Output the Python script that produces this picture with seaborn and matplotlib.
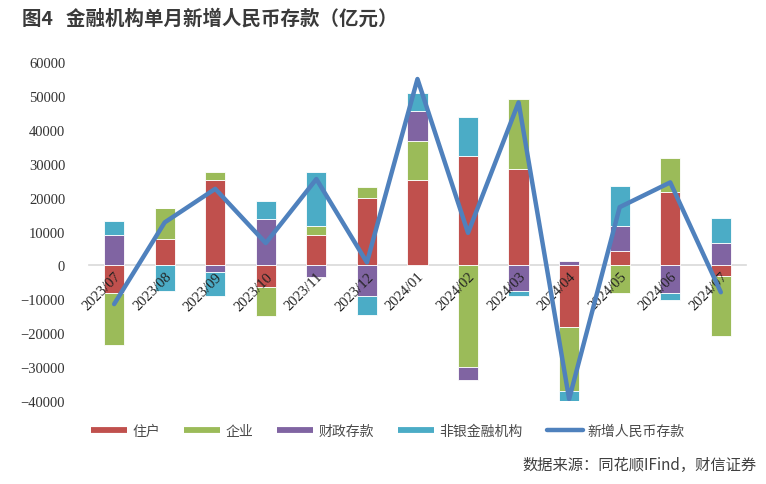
import numpy as np
import pandas as pd
import matplotlib
matplotlib.use("Agg")
import matplotlib.pyplot as plt
from matplotlib.lines import Line2D
import seaborn as sns

months = ["2023/07", "2023/08", "2023/09", "2023/10", "2023/11", "2023/12",
          "2024/01", "2024/02", "2024/03", "2024/04", "2024/05", "2024/06", "2024/07"]
household = [-8100, 7900, 25300, -6400, 9000, 19900, 25300, 32200, 28500, -18200, 4200, 21600, -3200]
corporate = [-15300, 9000, 2200, -8600, 2700, 3200, 11400, -30000, 20600, -18900, -8100, 10000, -17700]
fiscal = [9000, 0, -1800, 13800, -3300, -9100, 8900, -3750, -7600, 1200, 7550, -8100, 6550]
nonbank = [4000, -7400, -7100, 5100, 15800, -5500, 5400, 11700, -1500, -3050, 11600, -2000, 7450]
total = [-11400, 12700, 22600, 6600, 25500, 900, 55000, 9600, 48100, -39400, 17200, 24500, -7900]

series_names = ["住户", "企业", "财政存款", "非银金融机构"]
line_name = "新增人民币存款"
colors = ["#C0504D", "#9BBB59", "#8064A2", "#4BACC6"]
line_color = "#4F81BD"

df = pd.DataFrame({"month": months, "住户": household, "企业": corporate,
                   "财政存款": fiscal, "非银金融机构": nonbank, line_name: total})
df["pos"] = np.arange(len(df))

sns.set_theme(style="white")
plt.rcParams["font.family"] = ["Noto Sans CJK SC", "DejaVu Sans"]

fig = plt.figure(figsize=(7.66, 4.85), dpi=100)
ax = fig.add_axes([0.116, 0.171, 0.858, 0.699])
ax.set_axisbelow(False)

x = df["pos"].to_numpy()
pos_base = np.zeros(len(df))
neg_base = np.zeros(len(df))
for name, c in zip(series_names, colors):
    v = df[name].to_numpy(dtype=float)
    bottom = np.where(v >= 0, pos_base, neg_base)
    ax.bar(x, v, width=0.4, bottom=bottom, color=c, edgecolor="white", linewidth=0.6, zorder=2)
    pos_base = pos_base + np.where(v >= 0, v, 0)
    neg_base = neg_base + np.where(v < 0, v, 0)

sns.lineplot(data=df, x="pos", y=line_name, ax=ax, color=line_color, lw=3.2,
             zorder=4, legend=False)

for s in ["top", "right", "left"]:
    ax.spines[s].set_visible(False)
ax.spines["bottom"].set_position(("data", 0))
ax.spines["bottom"].set_color("#D9D9D9")
ax.spines["bottom"].set_linewidth(1.2)
ax.spines["bottom"].set_zorder(1)
ax.grid(False)

ax.set_xlim(-0.5, len(df) - 0.5)
ax.set_ylim(-40000, 60000)
yt = np.arange(-40000, 60001, 10000)
ax.set_yticks(yt)
ax.set_yticklabels([f"{v}" if v >= 0 else f"\u2212{-v}" for v in yt])
ax.tick_params(axis="y", length=0, pad=17)
ax.set_xticks(x)
ax.set_xticklabels(months)
ax.set_xticks(np.arange(-0.5, len(df), 1), minor=True)
ax.tick_params(axis="x", which="major", length=0, pad=3)
ax.tick_params(axis="x", which="minor", length=4, color="#D9D9D9", width=1, direction="out")
ax.set_xlabel("")
ax.set_ylabel("")
for lab in ax.get_yticklabels():
    lab.set_fontfamily("Liberation Serif")
    lab.set_fontsize(10.5)
    lab.set_color("#333333")
for lab in ax.get_xticklabels():
    lab.set_fontfamily("Liberation Serif")
    lab.set_fontsize(10.5)
    lab.set_color("#222222")
    lab.set_rotation(45)
    lab.set_ha("right")
    lab.set_va("top")
    lab.set_rotation_mode("anchor")

handles = [Line2D([0], [0], color=c, lw=4.2, solid_capstyle="butt") for c in colors]
handles.append(Line2D([0], [0], color=line_color, lw=3.2, solid_capstyle="round"))
fig.legend(handles, series_names + [line_name], loc="center left",
           bbox_to_anchor=(0.119, 0.109), ncol=5, frameon=False, fontsize=10,
           handlelength=2.6, handletextpad=0.35, columnspacing=1.75,
           borderpad=0, borderaxespad=0, labelcolor="#4A4A4A")

fig.text(0.029, 0.962, "图4   金融机构单月新增人民币存款（亿元）", fontsize=14,
         fontweight="bold", color="#3A3A3A", va="center", ha="left")
fig.text(0.988, 0.041, "数据来源：同花顺IFind，财信证券", fontsize=11,
         color="#404040", va="center", ha="right")

fig.savefig("out.png", dpi=100)
